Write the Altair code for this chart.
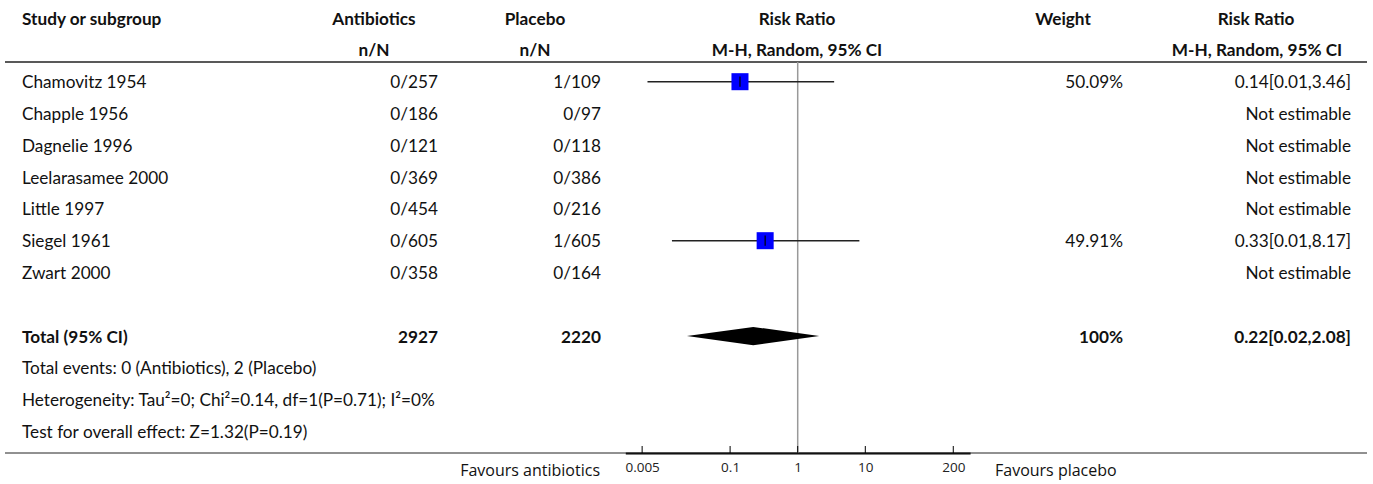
import altair as alt
import pandas as pd

# ---------------- data ----------------
studies = ["Chamovitz 1954", "Chapple 1956", "Dagnelie 1996", "Leelarasamee 2000",
           "Little 1997", "Siegel 1961", "Zwart 2000"]
antibiotics_nN = ["0/257", "0/186", "0/121", "0/369", "0/454", "0/605", "0/358"]
placebo_nN = ["1/109", "0/97", "0/118", "0/386", "0/216", "1/605", "0/164"]
weight_txt = ["50.09%", "", "", "", "", "49.91%", ""]
rr_txt = ["0.14[0.01,3.46]", "Not estimable", "Not estimable", "Not estimable",
          "Not estimable", "0.33[0.01,8.17]", "Not estimable"]
rr_est = [0.14, None, None, None, None, 0.33, None]
rr_lo = [0.006, None, None, None, None, 0.0138, None]
rr_hi = [3.46, None, None, None, None, 8.17, None]
weights = [50.09, None, None, None, None, 49.91, None]

total_label = "Total (95% CI)"
total_abx = "2927"
total_plac = "2220"
total_weight = "100%"
total_rr = "0.22[0.02,2.08]"
total_est = 0.22
total_lo = 0.023
total_hi = 2.08

footer = ["Total events: 0 (Antibiotics), 2 (Placebo)",
          "Heterogeneity: Tau\u00b2=0; Chi\u00b2=0.14, df=1(P=0.71); I\u00b2=0%",
          "Test for overall effect: Z=1.32(P=0.19)"]

axis_ticks = [0.005, 0.1, 1, 10, 200]

# ---------------- tables ----------------
W, H = 1373, 484
FONT = "Lato"
FS = 17.2
DY = 1.5

rows = pd.DataFrame({
    "row": list(range(len(studies))),
    "study": studies, "abx": antibiotics_nN, "plac": placebo_nN,
    "weight": weight_txt, "rr": rr_txt,
})
forest = pd.DataFrame({
    "row": list(range(len(studies))),
    "est": rr_est, "lo": rr_lo, "hi": rr_hi, "w": weights,
}).dropna()
total_row = len(studies) + 1
totals = pd.DataFrame({"row": [total_row], "label": [total_label], "abx": [total_abx],
                       "plac": [total_plac], "weight": [total_weight], "rr": [total_rr]})
half = 0.29
diamond = pd.DataFrame({"x": [total_lo, total_est, total_hi],
                        "top": [total_row, total_row - half, total_row],
                        "bot": [total_row, total_row + half, total_row]})
foot = pd.DataFrame({"row": [total_row + 1 + i for i in range(len(footer))], "t": footer})
headers = pd.DataFrame({"row": [-2, -1]})
ticks_df = pd.DataFrame({"t": axis_ticks})

yscale = alt.Scale(domain=[-2.569, 12.651], range=[0, H])
xscale = alt.Scale(type="log", domain=[0.002818, 354.8], range=[625.3, 970.1])
xaxis = alt.Axis(values=axis_ticks, format="~g", ticks=False, grid=False, title=None,
                 domainColor="#000", domainWidth=2, offset=-31,
                 labelFont="Open Sans", labelFontSize=13.5, labelColor="#222",
                 labelPadding=7, labelFlush=True)

Y = alt.Y("row:Q", scale=yscale, axis=None)


def col(df, field, x, align, bold=False):
    return alt.Chart(df).mark_text(
        align=align, baseline="middle", font=FONT, fontSize=FS, dy=DY,
        fontWeight="bold" if bold else "normal", color="#111"
    ).encode(x=alt.value(x), y=Y, text=f"{field}:N")


def header(text, row, x, align="center"):
    return alt.Chart(headers).transform_filter(f"datum.row == {row}").mark_text(
        align=align, baseline="middle", font=FONT, fontSize=FS, fontWeight="bold",
        dy=DY, color="#111", text=text
    ).encode(x=alt.value(x), y=Y)


layers = []
# header texts
layers += [
    header("Study or subgroup", -2, 22, "left"),
    header("Antibiotics", -2, 374), header("n/N", -1, 374),
    header("Placebo", -2, 535), header("n/N", -1, 535),
    header("Risk Ratio", -2, 797), header("M-H, Random, 95% CI", -1, 797),
    header("Weight", -2, 1063),
    header("Risk Ratio", -2, 1256), header("M-H, Random, 95% CI", -1, 1257),
]
# study rows
layers += [
    col(rows, "study", 22, "left"),
    col(rows, "abx", 438, "right"),
    col(rows, "plac", 601, "right"),
    col(rows, "weight", 1123, "right"),
    col(rows, "rr", 1351, "right"),
]
# totals
layers += [
    col(totals, "label", 22, "left", True),
    col(totals, "abx", 438, "right", True),
    col(totals, "plac", 601, "right", True),
    col(totals, "weight", 1123, "right", True),
    col(totals, "rr", 1351, "right", True),
    col(foot, "t", 22, "left"),
]

# lines
layers += [
    alt.Chart(headers).transform_filter("datum.row == -2").mark_rule(
        color="#222", strokeWidth=1.5).encode(
        x=alt.value(5), x2=alt.value(1367), y=alt.value(62)),
    alt.Chart(headers).transform_filter("datum.row == -2").mark_rule(
        color="#222", strokeWidth=1).encode(
        x=alt.value(5), x2=alt.value(1367), y=alt.value(453)),
    alt.Chart(headers).transform_filter("datum.row == -2").mark_rule(
        color="#999", strokeWidth=1.5).encode(
        x=alt.X(datum=1, scale=xscale, axis=xaxis), y=alt.value(62), y2=alt.value(453)),
    alt.Chart(ticks_df).mark_rule(color="#000", strokeWidth=1).encode(
        x=alt.X("t:Q", scale=xscale, axis=xaxis), y=alt.value(446), y2=alt.value(453)),
]

# forest plot
layers += [
    alt.Chart(forest).mark_rule(color="#222", strokeWidth=1.5).encode(
        x=alt.X("lo:Q", scale=xscale, axis=xaxis), x2="hi:Q", y=Y),
    alt.Chart(forest).mark_square(color="#0000ff", opacity=1, size=290).encode(
        x=alt.X("est:Q", scale=xscale, axis=xaxis), y=Y),
    alt.Chart(forest).transform_calculate(
        ya="datum.row - 0.16", yb="datum.row + 0.16").mark_rule(
        color="#000", strokeWidth=1.2).encode(
        x=alt.X("est:Q", scale=xscale, axis=xaxis),
        y=alt.Y("ya:Q", scale=yscale, axis=None), y2="yb:Q"),
    alt.Chart(diamond).mark_area(color="#000", opacity=1).encode(
        x=alt.X("x:Q", scale=xscale, axis=xaxis),
        y=alt.Y("top:Q", scale=yscale, axis=None), y2="bot:Q"),
]

# favours labels
layers += [
    alt.Chart(headers).transform_filter("datum.row == -2").mark_text(
        align="right", baseline="middle", font="Open Sans", fontSize=16,
        color="#111", text="Favours antibiotics").encode(
        x=alt.value(600), y=alt.value(471)),
    alt.Chart(headers).transform_filter("datum.row == -2").mark_text(
        align="left", baseline="middle", font="Open Sans", fontSize=16,
        color="#111", text="Favours placebo").encode(
        x=alt.value(995), y=alt.value(471)),
]

chart = alt.layer(*layers).properties(
    width=W, height=H, padding=0, autosize=alt.AutoSizeParams(type="none"),
    background="white"
).configure_view(stroke=None)

chart.save("out.html", embed_options={"renderer": "svg", "actions": False})
